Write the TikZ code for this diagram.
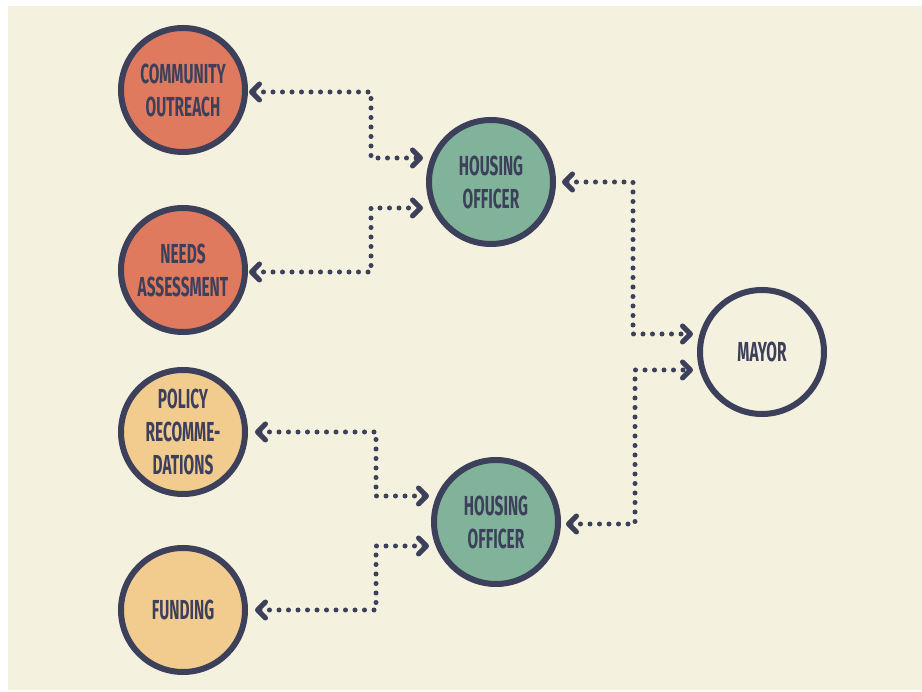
\documentclass[tikz,border=0pt]{standalone}
\usepackage{fontspec}
\newfontfamily\labelfont[FakeStretch=0.56]{Fira Sans}
\usetikzlibrary{arrows.meta}
\definecolor{cream}{HTML}{F4F1DE}
\definecolor{navy}{HTML}{3D405B}
\definecolor{terra}{HTML}{E07A5F}
\definecolor{sage}{HTML}{81B29A}
\definecolor{sand}{HTML}{F2CC8F}
\begin{document}
\begin{tikzpicture}[x=1pt,y=-1pt,
  bubble/.style={circle, draw=navy, line width=6pt, minimum size=124pt, inner sep=0pt,
    align=center, text=navy, font=\labelfont\bfseries\fontsize{27.5}{33}\selectfont},
  conn/.style={draw=navy, line width=5pt, line cap=round, dash pattern=on 0pt off 9.5pt,
    {Straight Barb[length=8pt,width=16pt,round]}-{Straight Barb[length=8pt,width=16pt,round]}}]
\useasboundingbox (0,0) rectangle (922,692);
\fill[white] (0,0) rectangle (922,692);
\fill[cream] (8,6.5) rectangle (922,690);

\node[bubble, fill=terra] (co) at (183,90) {COMMUNITY\\OUTREACH};
\node[bubble, fill=terra] (na) at (183,270) {NEEDS\\ASSESSMENT};
\node[bubble, fill=sand] (pol) at (183,432) {POLICY\\RECOMME-\\DATIONS};
\node[bubble, fill=sand] (fund) at (183,610) {FUNDING};
\node[bubble, fill=sage] (ho1) at (491,182) {HOUSING\\OFFICER};
\node[bubble, fill=sage] (ho2) at (496,522) {HOUSING\\OFFICER};
\node[bubble, fill=cream] (mayor) at (762,352) {MAYOR};

\coordinate (k1) at (371,158);
\coordinate (k2) at (371,208);
\coordinate (k3) at (633,334);
\coordinate (k4) at (635,370);
\coordinate (k5) at (376,496);
\coordinate (k6) at (376,546);

\draw[conn, shorten <=1pt, shorten >=3pt] ([yshift=-2pt]co.east) -| (k1) -- (k1 -| ho1.west);
\draw[conn, shorten <=1pt, shorten >=3pt] ([yshift=-2pt]na.east) -| (k2) -- (k2 -| ho1.west);
\draw[conn, shorten <=6pt, shorten >=4pt] (ho1.east) -| (k3) -- (k3 -| mayor.west);
\draw[conn, shorten <=5pt, shorten >=4pt] ([yshift=-2pt]ho2.east) -| (k4) -- (k4 -| mayor.west);
\draw[conn, shorten <=7pt, shorten >=2pt] (pol.east) -| (k5) -- (k5 -| ho2.west);
\draw[conn, shorten <=7pt, shorten >=2pt] (fund.east) -| (k6) -- (k6 -| ho2.west);
\end{tikzpicture}
\end{document}
